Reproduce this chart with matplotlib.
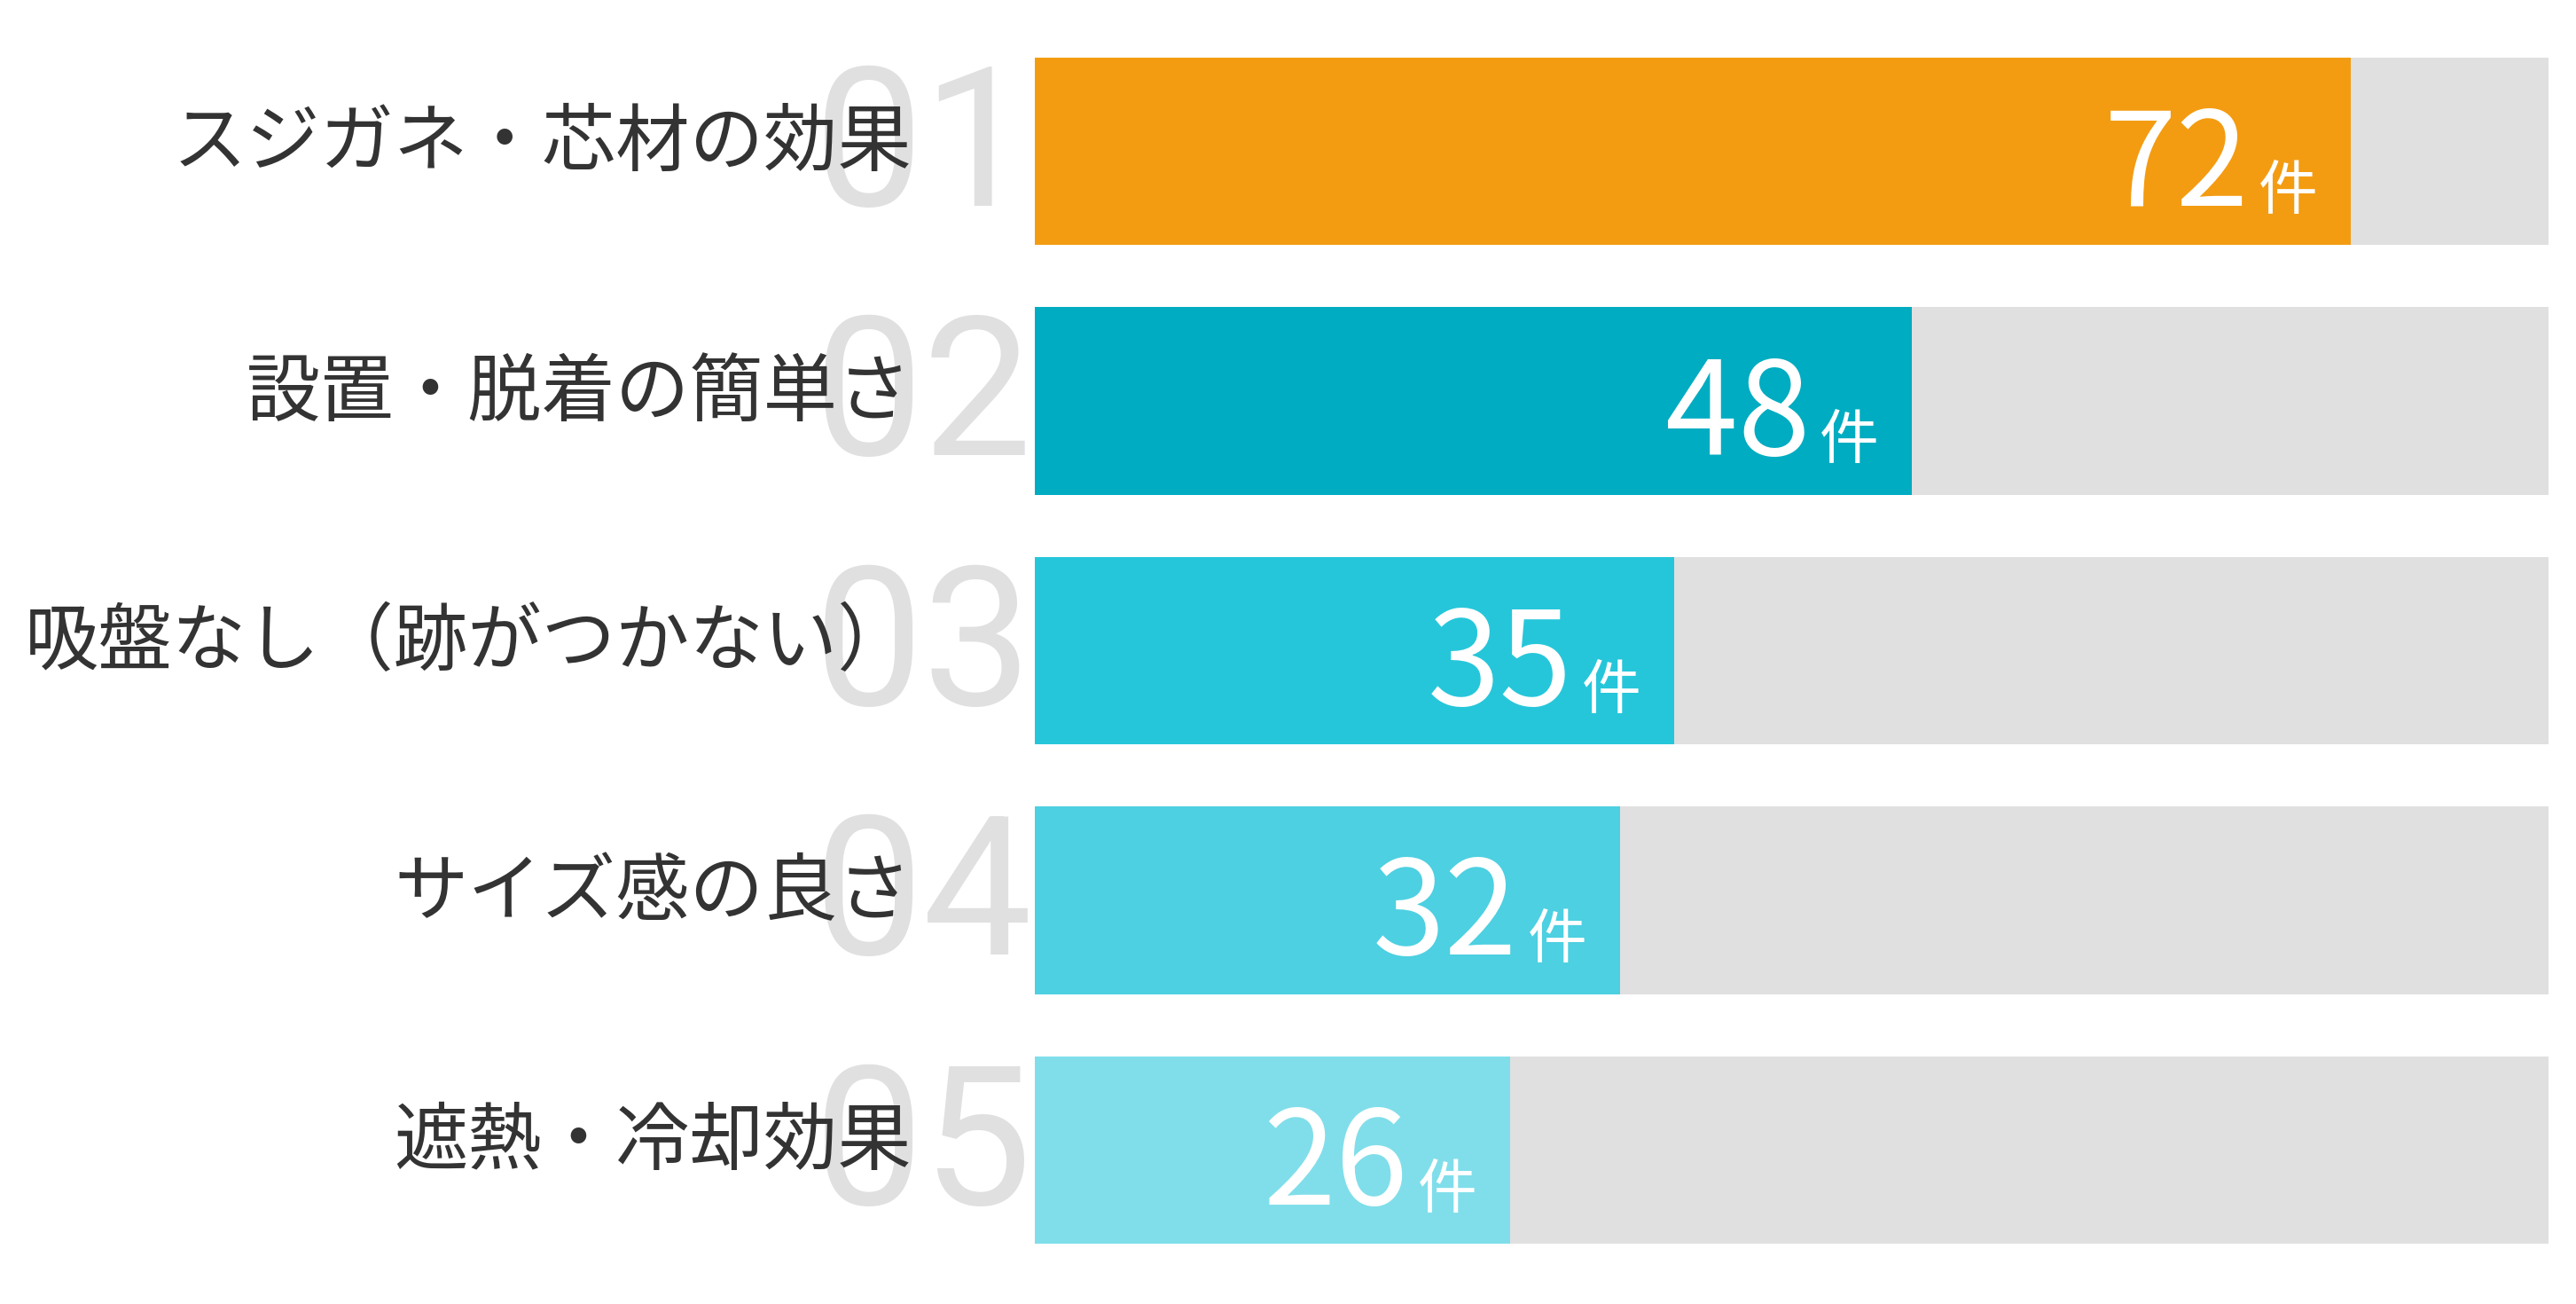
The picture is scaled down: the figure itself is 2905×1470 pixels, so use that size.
import matplotlib
matplotlib.use("Agg")
import matplotlib.pyplot as plt

plt.rcParams['font.family'] = ['Noto Sans CJK JP', 'DejaVu Sans']

# === Данные ===
labels = ["スジガネ・芯材の効果", "設置・脱着の簡単さ", "吸盤なし（跡がつかない）", "サイズ感の良さ", "遮熱・冷却効果"]
ranks = ["01", "02", "03", "04", "05"]
counts = [72, 48, 35, 32, 26]
colors = ["#F39C12", "#00ACC1", "#26C6DA", "#4DD0E1", "#80DEEA"]
unit = "件"

xmax = max(counts) * 1.15

fig = plt.figure(figsize=(29.05, 14.7), dpi=100)
ax = fig.add_axes([0.4017, 0.0223, 0.5876, 0.9575])

ypos = list(range(len(counts)))
ax.barh(ypos, [xmax] * len(counts), height=0.75, color="#E0E0E0", zorder=1)
ax.barh(ypos, counts, height=0.75, color=colors, zorder=2)

ax.set_xlim(0, xmax)
ax.set_ylim(len(counts) - 0.5, -0.5)
ax.axis("off")

for i, (lab, rk, c) in enumerate(zip(labels, ranks, counts)):
    # большой номер на фоне
    ax.annotate(rk, xy=(0, i), xytext=(-2, -44), textcoords="offset points",
                ha="right", va="baseline", fontsize=158, color="#E0E0E0",
                family=["Roboto", "DejaVu Sans"], fontweight="normal",
                zorder=0, annotation_clip=False)
    # подпись категории
    ax.annotate(lab, xy=(0, i), xytext=(-100, 6), textcoords="offset points",
                ha="right", va="center", fontsize=60, color="#333333",
                zorder=3, annotation_clip=False)
    # значение
    ax.annotate(str(c), xy=(c, i), xytext=(-83, -44), textcoords="offset points",
                ha="right", va="baseline", fontsize=106, color="white", zorder=4)
    ax.annotate(unit, xy=(c, i), xytext=(-27, -47), textcoords="offset points",
                ha="right", va="baseline", fontsize=48, color="white", zorder=4)

fig.savefig("out.png", dpi=100)
plt.close()
